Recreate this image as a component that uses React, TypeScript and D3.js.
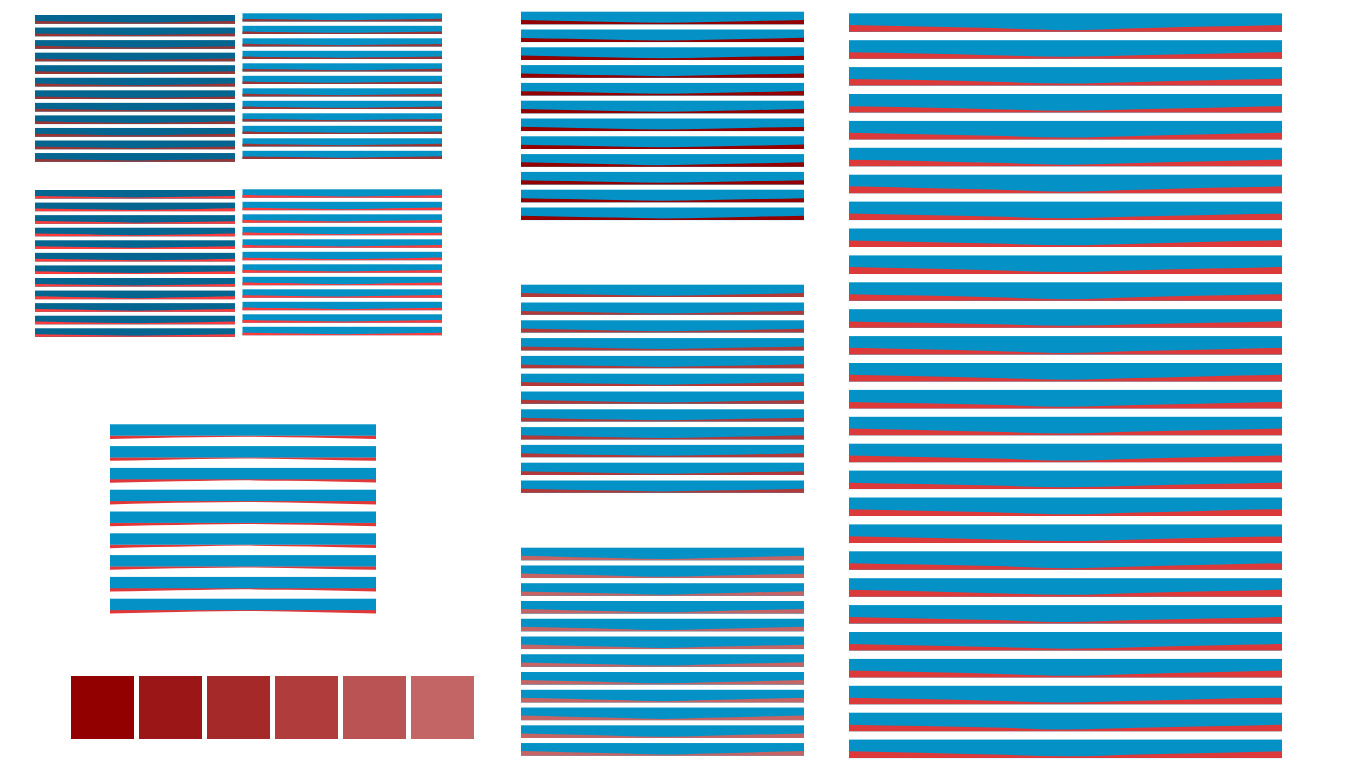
import React from "react";
import * as d3 from "d3";

// ---- Data: red share of each band, sampled at 7 evenly spaced points ----
const panelARed: number[][] = [
  [0.30, 0.25, 0.19, 0.14, 0.18, 0.24, 0.30],
  [0.32, 0.26, 0.20, 0.15, 0.19, 0.25, 0.31],
  [0.34, 0.27, 0.20, 0.15, 0.19, 0.24, 0.29],
  [0.29, 0.24, 0.19, 0.15, 0.20, 0.26, 0.32],
  [0.31, 0.25, 0.19, 0.14, 0.19, 0.25, 0.31],
  [0.33, 0.26, 0.19, 0.15, 0.19, 0.26, 0.33],
  [0.30, 0.24, 0.18, 0.14, 0.18, 0.24, 0.30],
  [0.31, 0.26, 0.20, 0.15, 0.20, 0.25, 0.30],
  [0.32, 0.25, 0.19, 0.14, 0.18, 0.25, 0.32],
  [0.34, 0.27, 0.20, 0.15, 0.20, 0.27, 0.33],
  [0.30, 0.25, 0.19, 0.15, 0.19, 0.24, 0.30],
  [0.31, 0.25, 0.19, 0.14, 0.19, 0.25, 0.31],
];
const panelBRed: number[][] = [
  [0.32, 0.26, 0.20, 0.15, 0.20, 0.26, 0.33],
  [0.31, 0.25, 0.19, 0.16, 0.19, 0.25, 0.31],
  [0.33, 0.27, 0.21, 0.15, 0.20, 0.26, 0.32],
  [0.30, 0.25, 0.20, 0.16, 0.20, 0.25, 0.30],
  [0.32, 0.26, 0.20, 0.15, 0.19, 0.26, 0.33],
  [0.31, 0.25, 0.19, 0.15, 0.20, 0.26, 0.32],
  [0.33, 0.27, 0.20, 0.16, 0.21, 0.27, 0.33],
  [0.30, 0.24, 0.19, 0.15, 0.19, 0.25, 0.31],
  [0.32, 0.26, 0.20, 0.16, 0.20, 0.26, 0.32],
  [0.31, 0.25, 0.20, 0.15, 0.19, 0.25, 0.31],
  [0.33, 0.26, 0.20, 0.15, 0.20, 0.26, 0.33],
  [0.32, 0.26, 0.20, 0.16, 0.20, 0.27, 0.34],
];
const panelCRed: number[][] = [
  [0.30, 0.24, 0.18, 0.12, 0.18, 0.24, 0.31],
  [0.32, 0.25, 0.18, 0.13, 0.19, 0.26, 0.33],
  [0.31, 0.25, 0.19, 0.12, 0.18, 0.24, 0.30],
  [0.33, 0.26, 0.19, 0.13, 0.19, 0.25, 0.32],
  [0.30, 0.24, 0.18, 0.12, 0.18, 0.25, 0.31],
  [0.32, 0.25, 0.19, 0.13, 0.18, 0.24, 0.30],
  [0.31, 0.24, 0.18, 0.12, 0.19, 0.25, 0.32],
  [0.30, 0.24, 0.18, 0.13, 0.18, 0.24, 0.31],
  [0.33, 0.26, 0.19, 0.12, 0.19, 0.26, 0.33],
  [0.31, 0.25, 0.18, 0.12, 0.18, 0.25, 0.31],
  [0.32, 0.25, 0.19, 0.13, 0.19, 0.25, 0.32],
  [0.30, 0.24, 0.18, 0.12, 0.18, 0.24, 0.30],
];
const panelDRed: number[][] = [
  [0.31, 0.25, 0.19, 0.13, 0.18, 0.24, 0.30],
  [0.30, 0.24, 0.18, 0.12, 0.18, 0.25, 0.31],
  [0.32, 0.26, 0.19, 0.13, 0.19, 0.25, 0.32],
  [0.31, 0.25, 0.18, 0.12, 0.18, 0.24, 0.30],
  [0.33, 0.26, 0.19, 0.13, 0.19, 0.26, 0.33],
  [0.30, 0.24, 0.18, 0.12, 0.18, 0.24, 0.31],
  [0.32, 0.25, 0.19, 0.13, 0.19, 0.25, 0.32],
  [0.31, 0.25, 0.18, 0.12, 0.18, 0.25, 0.31],
  [0.30, 0.24, 0.18, 0.13, 0.19, 0.25, 0.32],
  [0.32, 0.26, 0.19, 0.12, 0.18, 0.24, 0.30],
  [0.31, 0.25, 0.19, 0.13, 0.19, 0.25, 0.31],
  [0.30, 0.24, 0.18, 0.12, 0.18, 0.24, 0.30],
];
// Panel E: blue part fixed, red hangs below it
const panelEBlue = 0.76;
const panelERed: number[][] = [
  [0.22, 0.15, 0.10, 0.07, 0.10, 0.15, 0.22],
  [0.22, 0.16, 0.10, 0.06, 0.10, 0.16, 0.22],
  [0.23, 0.16, 0.11, 0.07, 0.10, 0.15, 0.22],
  [0.22, 0.15, 0.10, 0.06, 0.10, 0.16, 0.23],
  [0.22, 0.16, 0.10, 0.07, 0.11, 0.16, 0.22],
  [0.23, 0.16, 0.10, 0.06, 0.10, 0.15, 0.22],
  [0.22, 0.15, 0.10, 0.07, 0.10, 0.16, 0.22],
  [0.22, 0.16, 0.11, 0.07, 0.10, 0.15, 0.22],
  [0.23, 0.16, 0.10, 0.06, 0.10, 0.16, 0.23],
];
const panelFRed: number[][] = [
  [0.34, 0.27, 0.19, 0.13, 0.19, 0.27, 0.34],
  [0.33, 0.26, 0.19, 0.12, 0.18, 0.26, 0.35],
  [0.35, 0.27, 0.20, 0.13, 0.19, 0.26, 0.33],
  [0.34, 0.26, 0.19, 0.12, 0.19, 0.27, 0.34],
  [0.33, 0.27, 0.20, 0.13, 0.20, 0.27, 0.35],
  [0.35, 0.27, 0.19, 0.12, 0.18, 0.26, 0.34],
  [0.34, 0.26, 0.19, 0.13, 0.19, 0.27, 0.33],
  [0.33, 0.26, 0.19, 0.13, 0.19, 0.26, 0.34],
  [0.35, 0.28, 0.20, 0.12, 0.19, 0.27, 0.35],
  [0.34, 0.27, 0.19, 0.13, 0.20, 0.27, 0.34],
  [0.33, 0.26, 0.19, 0.12, 0.19, 0.26, 0.33],
  [0.35, 0.27, 0.20, 0.13, 0.19, 0.27, 0.35],
];
const panelGRed: number[][] = [
  [0.32, 0.24, 0.17, 0.11, 0.17, 0.24, 0.32],
  [0.31, 0.24, 0.17, 0.10, 0.17, 0.25, 0.33],
  [0.33, 0.25, 0.18, 0.11, 0.17, 0.24, 0.31],
  [0.32, 0.25, 0.17, 0.11, 0.18, 0.25, 0.32],
  [0.31, 0.24, 0.17, 0.10, 0.17, 0.24, 0.32],
  [0.33, 0.25, 0.18, 0.11, 0.18, 0.25, 0.33],
  [0.32, 0.24, 0.17, 0.11, 0.17, 0.24, 0.31],
  [0.31, 0.24, 0.17, 0.10, 0.17, 0.25, 0.32],
  [0.33, 0.25, 0.18, 0.11, 0.18, 0.25, 0.33],
  [0.32, 0.24, 0.17, 0.11, 0.17, 0.24, 0.32],
  [0.31, 0.24, 0.17, 0.10, 0.17, 0.24, 0.31],
  [0.32, 0.25, 0.18, 0.11, 0.18, 0.25, 0.32],
];
const panelHRed: number[][] = [
  [0.36, 0.27, 0.18, 0.10, 0.18, 0.27, 0.36],
  [0.37, 0.28, 0.19, 0.10, 0.18, 0.27, 0.35],
  [0.35, 0.27, 0.18, 0.09, 0.18, 0.28, 0.37],
  [0.36, 0.27, 0.18, 0.10, 0.19, 0.28, 0.36],
  [0.37, 0.28, 0.19, 0.10, 0.18, 0.27, 0.36],
  [0.36, 0.27, 0.18, 0.09, 0.18, 0.27, 0.35],
  [0.35, 0.27, 0.18, 0.10, 0.19, 0.28, 0.37],
  [0.36, 0.28, 0.19, 0.10, 0.18, 0.27, 0.36],
  [0.37, 0.28, 0.18, 0.09, 0.18, 0.28, 0.37],
  [0.36, 0.27, 0.18, 0.10, 0.19, 0.27, 0.36],
  [0.35, 0.27, 0.18, 0.10, 0.18, 0.27, 0.35],
  [0.36, 0.28, 0.19, 0.09, 0.18, 0.28, 0.37],
];
const panelIRed: number[][] = [
  [0.37, 0.29, 0.20, 0.09, 0.19, 0.28, 0.37],
  [0.35, 0.28, 0.19, 0.10, 0.18, 0.27, 0.36],
  [0.36, 0.30, 0.21, 0.11, 0.20, 0.29, 0.37],
  [0.34, 0.27, 0.18, 0.09, 0.17, 0.26, 0.35],
  [0.36, 0.28, 0.20, 0.10, 0.19, 0.28, 0.36],
  [0.35, 0.29, 0.19, 0.09, 0.18, 0.27, 0.37],
  [0.37, 0.28, 0.20, 0.08, 0.19, 0.29, 0.36],
  [0.36, 0.28, 0.19, 0.10, 0.19, 0.28, 0.35],
  [0.35, 0.27, 0.19, 0.09, 0.18, 0.28, 0.36],
  [0.37, 0.29, 0.20, 0.10, 0.20, 0.29, 0.37],
  [0.36, 0.28, 0.19, 0.09, 0.19, 0.28, 0.36],
  [0.34, 0.27, 0.19, 0.10, 0.18, 0.27, 0.35],
  [0.37, 0.29, 0.20, 0.09, 0.19, 0.28, 0.37],
  [0.36, 0.28, 0.19, 0.10, 0.19, 0.29, 0.36],
  [0.35, 0.28, 0.20, 0.09, 0.18, 0.27, 0.35],
  [0.37, 0.29, 0.19, 0.10, 0.20, 0.28, 0.37],
  [0.36, 0.28, 0.20, 0.09, 0.19, 0.28, 0.36],
  [0.35, 0.27, 0.19, 0.10, 0.18, 0.27, 0.36],
  [0.37, 0.29, 0.20, 0.09, 0.19, 0.29, 0.37],
  [0.36, 0.28, 0.19, 0.10, 0.19, 0.28, 0.35],
  [0.35, 0.28, 0.20, 0.09, 0.18, 0.27, 0.36],
  [0.37, 0.29, 0.19, 0.10, 0.20, 0.29, 0.37],
  [0.36, 0.28, 0.20, 0.09, 0.19, 0.28, 0.36],
  [0.35, 0.27, 0.19, 0.10, 0.18, 0.27, 0.35],
  [0.37, 0.29, 0.20, 0.09, 0.19, 0.28, 0.37],
  [0.36, 0.28, 0.19, 0.10, 0.19, 0.29, 0.36],
  [0.35, 0.28, 0.20, 0.09, 0.18, 0.27, 0.35],
  [0.37, 0.29, 0.19, 0.10, 0.20, 0.28, 0.37],
];
const swatchColors: string[] = ["#920000", "#9b1616", "#a52929", "#b03c3c", "#ba5353", "#c46565"];

// ---- Layout / styling (not data) ----
type Panel = {
  data: number[][];
  x0: number; x1: number; y0: number; pitch: number; h: number;
  blue: string; red: string; hanging?: boolean;
};

const DARK_BLUE = "#046690";
const BLUE = "#0492c6";

const panels: Panel[] = [
  { data: panelARed, x0: 35, x1: 235, y0: 15, pitch: 12.55, h: 8.7, blue: DARK_BLUE, red: "#993535" },
  { data: panelBRed, x0: 242.5, x1: 442, y0: 13.3, pitch: 12.5, h: 8.2, blue: BLUE, red: "#993535" },
  { data: panelCRed, x0: 35, x1: 235, y0: 190, pitch: 12.57, h: 8.6, blue: DARK_BLUE, red: "#ff3b3b" },
  { data: panelDRed, x0: 242.5, x1: 442, y0: 189.3, pitch: 12.5, h: 8.4, blue: BLUE, red: "#ff3b3b" },
  { data: panelERed, x0: 110, x1: 376, y0: 424.3, pitch: 21.8, h: 15, blue: BLUE, red: "#e03838", hanging: true },
  { data: panelFRed, x0: 521, x1: 804, y0: 11.7, pitch: 17.8, h: 12.6, blue: BLUE, red: "#930000" },
  { data: panelGRed, x0: 521, x1: 804, y0: 284.7, pitch: 17.8, h: 12.3, blue: BLUE, red: "#b03a3a" },
  { data: panelHRed, x0: 521, x1: 804, y0: 547.7, pitch: 17.76, h: 12.6, blue: BLUE, red: "#c46464" },
  { data: panelIRed, x0: 849, x1: 1282, y0: 13.3, pitch: 26.9, h: 18.5, blue: BLUE, red: "#dc3a3a" },
];

function PanelView({ p }: { p: Panel }) {
  const n = p.data.length;
  const pts = p.data[0].length;
  const bandIds = d3.range(n).map(String);
  const yBand = d3
    .scaleBand<string>()
    .domain(bandIds)
    .range([p.y0, p.y0 + (n - 1) * p.pitch + p.h])
    .paddingInner((p.pitch - p.h) / p.pitch)
    .paddingOuter(0);
  const x = d3.scaleLinear().domain([0, pts - 1]).range([p.x0, p.x1]);

  return (
    <g>
      {p.data.map((vals, i) => {
        const top = yBand(String(i)) as number;
        const bw = yBand.bandwidth();
        if (p.hanging) {
          const y = d3.scaleLinear().domain([0, 1]).range([top, top + bw]);
          const area = d3
            .area<number>()
            .x((_, j) => x(j))
            .y0(y(panelEBlue) - 0.3)
            .y1((v) => y(panelEBlue + v))
            .curve(d3.curveMonotoneX);
          return (
            <g key={i}>
              <path d={area(vals) || ""} fill={p.red} />
              <rect x={p.x0} y={top} width={p.x1 - p.x0} height={y(panelEBlue) - top} fill={p.blue} />
            </g>
          );
        }
        const y = d3.scaleLinear().domain([0, 1]).range([top + bw, top]);
        const area = d3
          .area<number>()
          .x((_, j) => x(j))
          .y0(y(0))
          .y1((v) => y(v))
          .curve(d3.curveMonotoneX);
        return (
          <g key={i}>
            <rect x={p.x0} y={top} width={p.x1 - p.x0} height={bw} fill={p.blue} />
            <path d={area(vals) || ""} fill={p.red} />
          </g>
        );
      })}
    </g>
  );
}

export default function App() {
  const sx = d3
    .scaleBand<number>()
    .domain(d3.range(swatchColors.length))
    .range([71, 474])
    .paddingInner(5 / 68)
    .paddingOuter(0);
  return (
    <svg
      width={1366}
      height={768}
      style={{ position: "absolute", left: 0, top: 0, display: "block", background: "#ffffff" }}
    >
      {panels.map((p, k) => (
        <PanelView key={k} p={p} />
      ))}
      {swatchColors.map((c, i) => (
        <rect key={i} x={sx(i)} y={676} width={sx.bandwidth()} height={63} fill={c} />
      ))}
    </svg>
  );
}
